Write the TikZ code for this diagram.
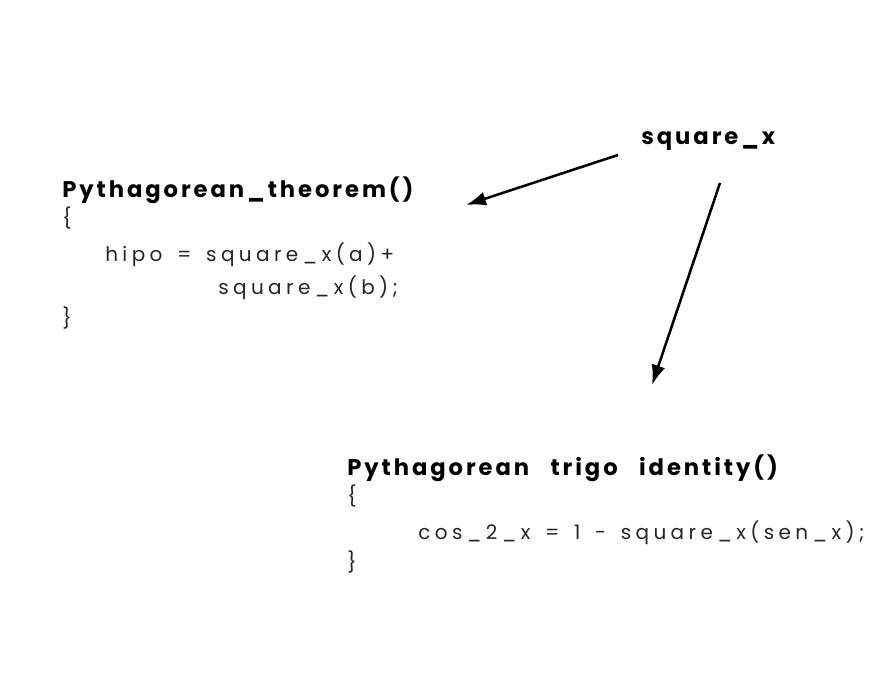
\documentclass[tikz,border=0pt]{standalone}
\usepackage{fontspec}
\newfontfamily\headfont[LetterSpace=13,WordSpace=2.75]{Poppins}
\newfontfamily\codefont[LetterSpace=22,WordSpace=1.5]{Poppins}
\usetikzlibrary{arrows.meta}

\tikzset{
  head/.style={font=\headfont\bfseries\fontsize{17}{20}\selectfont, anchor=base west, inner sep=0pt},
  code/.style={font=\codefont\fontsize{15}{18}\selectfont, anchor=base west, inner sep=0pt, text=black!85},
  pointer/.style={-{Latex[length=15pt,width=10.5pt]}, line width=1.9pt}
}

\begin{document}
\begin{tikzpicture}[x=0.75pt, y=-0.75pt]
\useasboundingbox (0,0) rectangle (894,673);

% function that gets reused
\node[head] (sq) at (641,145) {square\_x};

% first caller
\node[head] (pyth) at (62,198) {Pythagorean\_theorem()};
\node[code] (pyth1) at (62,226) {\{};
\node[code] (pyth2) at (105,262) {hipo = square\_x(a)+};
\node[code] (pyth3) at (218,295) {square\_x(b);};
\node[code] (pyth4) at (62,326) {\}};

% second caller
\node[head] (trig) at (347,476) {Pythagorean trigo identity()};
\node[code] (trig1) at (347,504) {\{};
\node[code] (trig2) at (418,540) {cos\_2\_x = 1 - square\_x(sen\_x);};
\node[code] (trig3) at (347,570) {\}};

\coordinate (out1) at (618,155);
\coordinate (in1) at (466,205);
\coordinate (out2) at (720,183);
\coordinate (in2) at (652,385);

\draw[pointer] (out1) -- (in1);
\draw[pointer] (out2) -- (in2);

\end{tikzpicture}
\end{document}
